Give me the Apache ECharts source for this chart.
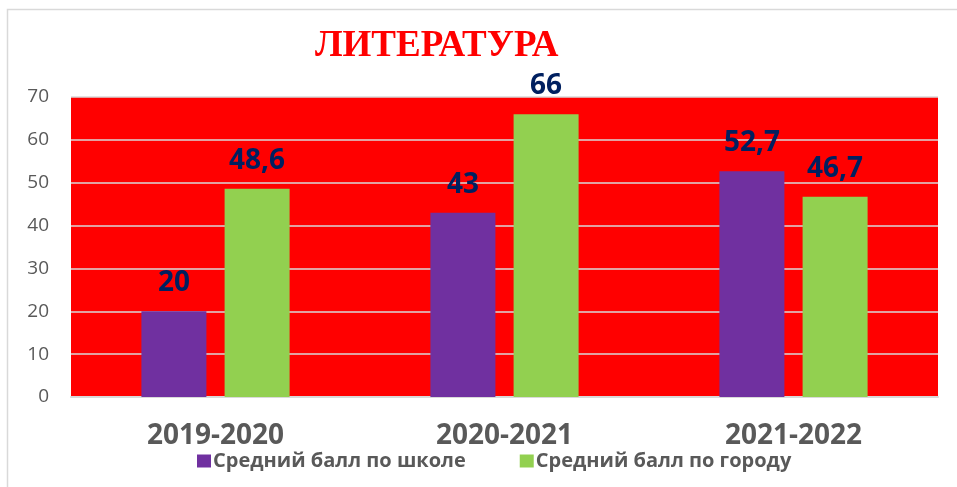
<!DOCTYPE html>
<html>
<head>
<meta charset="utf-8">
<script src="https://cdn.jsdelivr.net/npm/echarts@6/dist/echarts.min.js"></script>
<style>
 html,body{margin:0;padding:0;background:#fff;}
 #chart{width:957px;height:487px;}
</style>
</head>
<body>
<div id="chart"></div>
<script type="text/javascript">
 var years = ['2019-2020', '2020-2021', '2021-2022'];
 var school = [20, 43, 52.7];
 var city = [48.6, 66, 46.7];
 var names = ['Средний балл по школе', 'Средний балл по городу'];

 var myChart = echarts.init(document.getElementById('chart'));
 var lbl = {
   show: true,
   position: 'top',
   distance: 14,
   color: '#002060',
   fontFamily: 'Open Sans',
   fontWeight: 'bold',
   fontSize: 28,
   formatter: function (p) { return String(p.value).replace('.', ','); }
 };
 var option = {
   animation: false,
   graphic: [{
     type: 'rect',
     shape: { x: 7.5, y: 9.5, width: 960, height: 490 },
     style: { fill: 'none', stroke: '#d9d9d9', lineWidth: 1.5 },
     silent: true
   }],
   title: {
     text: 'ЛИТЕРАТУРА',
     left: 315,
     top: 28,
     padding: 0,
     textStyle: { color: '#ff0000', fontFamily: 'Liberation Serif', fontWeight: 'bold', fontSize: 37 }
   },
   legend: {
     data: names,
     left: 192,
     top: 446,
     itemWidth: 14,
     itemHeight: 13,
     itemGap: 54,
     icon: 'rect',
     textStyle: { color: '#595959', fontFamily: 'Open Sans', fontWeight: 'bold', fontSize: 20, padding: [0, 0, 0, -3] }
   },
   grid: {
     left: 71, right: 19, top: 97, bottom: 90,
     show: true, backgroundColor: '#ff0000', borderWidth: 0
   },
   xAxis: {
     type: 'category',
     data: years,
     axisTick: { show: false },
     axisLine: { lineStyle: { color: '#d9d9d9', width: 2 } },
     axisLabel: { interval: 0, margin: 25, color: '#595959', fontFamily: 'Open Sans', fontWeight: 'bold', fontSize: 28 }
   },
   yAxis: {
     type: 'value',
     min: 0, max: 70, interval: 10,
     axisLine: { show: false },
     axisTick: { show: false },
     axisLabel: { margin: 22, color: '#595959', fontFamily: 'Open Sans', fontSize: 19 },
     splitLine: { lineStyle: { color: '#d9d9d9', width: 1.5 } }
   },
   series: [
     { name: names[0], type: 'bar', data: school, barWidth: 65, barGap: '28%', itemStyle: { color: '#7030a0' }, label: lbl },
     { name: names[1], type: 'bar', data: city, barWidth: 65, itemStyle: { color: '#92d050' }, label: lbl }
   ]
 };
 myChart.setOption(option);
</script>
</body>
</html>
